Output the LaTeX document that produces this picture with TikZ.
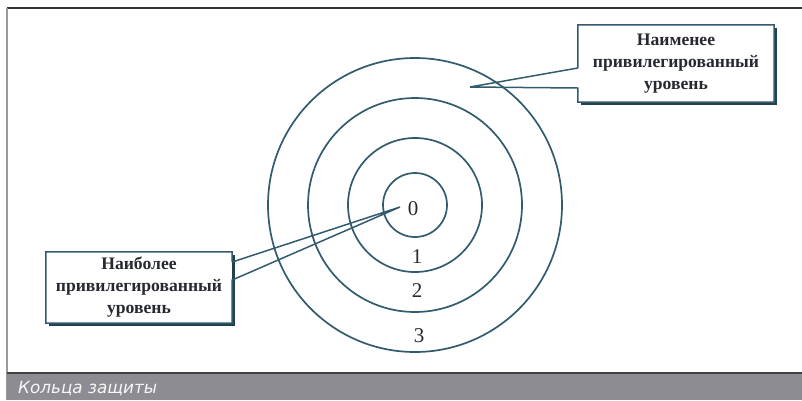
\documentclass[tikz,border=0pt]{standalone}
\usepackage{fontspec}
\setmainfont{Liberation Serif}
\newfontfamily\capfont{DejaVu Sans}
\usetikzlibrary{calc,backgrounds}
\definecolor{ink}{RGB}{50,92,110}
\definecolor{txt}{RGB}{38,42,48}
\definecolor{barbg}{RGB}{140,140,146}
\begin{document}
\begin{tikzpicture}[x=1pt,y=-1pt,
  ring/.style={draw=ink,line width=1.7pt},
  callbox/.style={fill=white,inner sep=0pt,align=center,text=txt,
    font=\bfseries\fontsize{17.6}{22}\selectfont},
  callline/.style={draw=ink,line width=1.5pt,line join=miter},
  shadow/.style={fill=ink!70!black},
  num/.style={text=txt,font=\fontsize{21}{24}\selectfont,inner sep=0pt},
  captext/.style={text=white!94!gray,font=\capfont\itshape\fontsize{16.8}{18}\selectfont,inner sep=0pt}]
\useasboundingbox (0,0) rectangle (802,400);
\begin{scope}[on background layer]
  \fill[white] (0,0) rectangle (802,400);
\end{scope}
% frame
\draw[line width=1.4pt,black!80] (7,8) -- (802,8);
\draw[line width=2pt,black!40] (7,8) -- (7,400);
% rings
\coordinate (c) at (415,205);
\draw[ring] (c) circle[radius=32];
\draw[ring] (c) circle[radius=67];
\draw[ring] (c) circle[radius=107];
\draw[ring] (c) circle[radius=147];
% numbers
\node[num] (n0) at (413,209) {0};
\node[num] (n1) at (417,257) {1};
\node[num] (n2) at (417,291) {2};
\node[num] (n3) at (419,336) {3};
% top-right callout
\coordinate (tipHi) at (470,87);
\node[callbox,minimum width=196pt,minimum height=77pt] (hi) at (676,63.5)
  {Наименее\\привилегированный\\уровень};
\begin{scope}[on background layer]
  \fill[shadow] ($(hi.north west)+(3,3)$) rectangle ($(hi.south east)+(2.5,2.5)$);
\end{scope}
\draw[callline] ($(hi.west)+(0,4.5)$) -- (hi.north west) -- (hi.north east)
  -- (hi.south east) -- (hi.south west) -- ($(hi.west)+(0,24.5)$) -- (tipHi)
  -- ($(hi.west)+(0,4.5)$);
% bottom-left callout
\coordinate (tipLo) at (400,207);
\node[callbox,minimum width=186pt,minimum height=71pt] (lo) at (139,287.5)
  {Наиболее\\привилегированный\\уровень};
\begin{scope}[on background layer]
  \fill[shadow] ($(lo.north west)+(3,3)$) rectangle ($(lo.south east)+(2.5,2.5)$);
\end{scope}
\draw[callline] ($(lo.east)+(0,-25.5)$) -- (lo.north east) -- (lo.north west)
  -- (lo.south west) -- (lo.south east) -- ($(lo.east)+(0,-7.5)$) -- (tipLo)
  -- ($(lo.east)+(0,-25.5)$);
% caption bar
\fill[barbg] (7,373) rectangle (802,400);
\draw[line width=1.2pt,black!75] (7,373) -- (802,373);
\node[captext,anchor=base west] (cap) at (18,393) {Кольца защиты};
\end{tikzpicture}
\end{document}
